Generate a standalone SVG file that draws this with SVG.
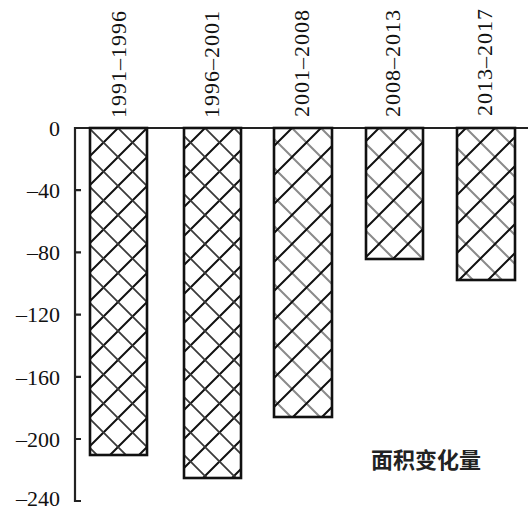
<svg xmlns="http://www.w3.org/2000/svg" width="528" height="514" viewBox="0 0 528 514">
<style>
.lbl{font-size:22px;fill:#111}
.ylbl{font-size:22px;fill:#111;text-anchor:end}
.bar{stroke:#111;stroke-width:2.6}
.axis{stroke:#222;stroke-width:2.2;fill:none}
.cn{font-size:22px;font-weight:bold;fill:#222}
</style>
<defs>
<pattern id="hatchA" patternUnits="userSpaceOnUse" x="118" y="128" width="29" height="29">
<path d="M-7,36 L36,-7 M-7,7 L7,-7 M22,36 L36,22" stroke="#111" stroke-width="2"/>
<path d="M-7,-7 L36,36 M-7,22 L7,36 M22,-7 L36,7" stroke="#3a3a3a" stroke-width="1.8"/>
</pattern>
<pattern id="hatchB" patternUnits="userSpaceOnUse" x="118" y="128" width="29" height="29">
<path d="M-7,-7 L36,36 M-7,22 L7,36 M22,-7 L36,7" stroke="#8a8a8a" stroke-width="2"/>
<path d="M-7,36 L36,-7 M-7,7 L7,-7 M22,36 L36,22" stroke="#111" stroke-width="2"/>
</pattern>
</defs>
<rect width="528" height="514" fill="#fff"/>
<g id="connectors">
<line class="axis" x1="75" y1="128" x2="528" y2="128" stroke="#444"/>
<path class="axis" d="M75,127 L75,501 L81,501"/>
<path class="axis" d="M75,190.2 h6 M75,252.4 h6 M75,314.6 h6 M75,376.8 h6 M75,439 h6"/>
</g>
<g id="yaxis-labels" font-family="'Liberation Serif', 'DejaVu Serif', serif">
<text class="ylbl" x="60" y="136">0</text>
<text class="ylbl" x="60" y="198">–40</text>
<text class="ylbl" x="60" y="260">–80</text>
<text class="ylbl" x="60" y="322">–120</text>
<text class="ylbl" x="60" y="385">–160</text>
<text class="ylbl" x="60" y="447">–200</text>
<text class="ylbl" x="60" y="506">–240</text>
</g>
<g id="bar1" font-family="'Liberation Serif', 'DejaVu Serif', serif">
<rect class="bar" x="90" y="128" width="57" height="327" fill="url(#hatchA)"/>
<text class="lbl" x="126" y="64" text-anchor="middle" letter-spacing="1" transform="rotate(-90 126 64)">1991–1996</text>
</g>
<g id="bar2" font-family="'Liberation Serif', 'DejaVu Serif', serif">
<rect class="bar" x="184" y="128" width="57" height="350" fill="url(#hatchA)"/>
<text class="lbl" x="219" y="64" text-anchor="middle" letter-spacing="1" transform="rotate(-90 219 64)">1996–2001</text>
</g>
<g id="bar3" font-family="'Liberation Serif', 'DejaVu Serif', serif">
<rect class="bar" x="274" y="128" width="58" height="289" fill="url(#hatchB)"/>
<text class="lbl" x="309" y="63" text-anchor="middle" letter-spacing="1" transform="rotate(-90 309 63)">2001–2008</text>
</g>
<g id="bar4" font-family="'Liberation Serif', 'DejaVu Serif', serif">
<rect class="bar" x="366" y="128" width="57" height="131" fill="url(#hatchB)"/>
<text class="lbl" x="400" y="63" text-anchor="middle" letter-spacing="1" transform="rotate(-90 400 63)">2008–2013</text>
</g>
<g id="bar5" font-family="'Liberation Serif', 'DejaVu Serif', serif">
<rect class="bar" x="457" y="128" width="58" height="152" fill="url(#hatchB)"/>
<text class="lbl" x="492" y="62" text-anchor="middle" letter-spacing="1" transform="rotate(-90 492 62)">2013–2017</text>
</g>
<g id="legend">
<text class="cn" x="371" y="468" font-family="'Noto Sans CJK SC', sans-serif">面积变化量</text>
</g>
</svg>
